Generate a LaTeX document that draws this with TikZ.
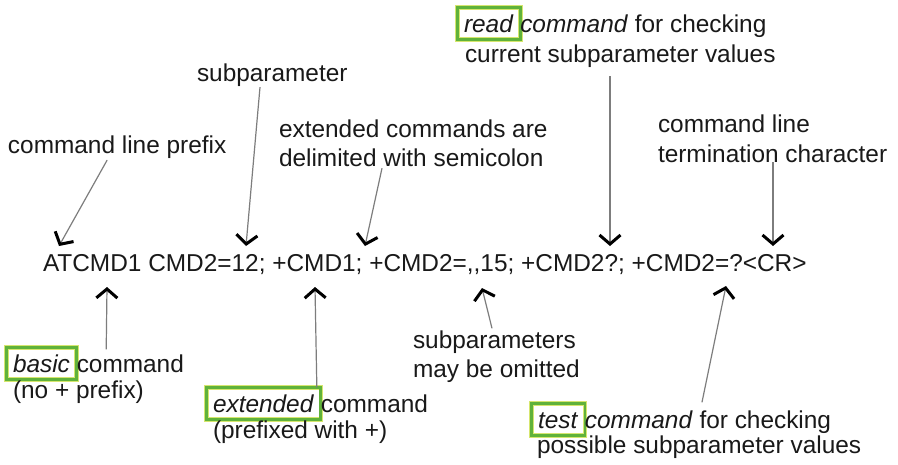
\documentclass[tikz,border=0pt]{standalone}
\usepackage{fontspec}
\setmainfont{Liberation Sans}
\usetikzlibrary{arrows.meta,calc}

\definecolor{boxgreen}{RGB}{96,178,58}
\definecolor{boxglow}{RGB}{214,230,110}
\definecolor{leader}{RGB}{125,125,125}

\tikzset{
  lbl/.style={anchor=base west, inner sep=0pt, outer sep=0pt,
              font=\fontsize{24.4}{29}\selectfont, text=black!90},
  kw/.style={lbl, inner xsep=6.8pt, inner ysep=7pt,
             text height=17.6pt, text depth=0.5pt,
             preaction={draw=boxglow, line width=4.6pt},
             draw=boxgreen, line width=2.8pt},
  pointer/.style={draw=leader, line width=1.2pt,
                  -{Straight Barb[length=9pt,width=21pt,line width=3pt,color=black]}},
}

\begin{document}
\begin{tikzpicture}[x=1pt,y=-1pt]
  \fill[white] (0,0) rectangle (898,464);
  \useasboundingbox (0,0) rectangle (898,464);

  % the command line itself
  \node[lbl] (cmd) at (43,271) {ATCMD1 CMD2=12; +CMD1; +CMD2=,{},15; +CMD2?; +CMD2=?<CR>};

  % labels above the command line
  \node[lbl] (prefix) at (8,153) {command line prefix};
  \node[lbl] (subp) at (197,81) {subparameter};
  \node[lbl] (delim1) at (279,137) {extended commands are};
  \node[lbl] (delim2) at (279,166) {delimited with semicolon};
  \node[kw]  (readkw) at (457.2,32) {\textit{read}};
  \node[lbl] (read1) at (readkw.base east) {\textit{command} for checking};
  \node[lbl] (read2) at (465,62) {current subparameter values};
  \node[lbl] (term1) at (658,132) {command line};
  \node[lbl] (term2) at (658,162) {termination character};

  % labels below the command line
  \node[kw]  (basickw) at (6.2,372) {\textit{basic}};
  \node[lbl] (basic1) at (basickw.base east) {command};
  \node[lbl] (basic2) at (13,398) {(no + prefix)};
  \node[kw]  (extkw) at (206.2,412) {\textit{extended}};
  \node[lbl] (ext1) at (extkw.base east) {command};
  \node[lbl] (ext2) at (213,438) {(prefixed with +)};
  \node[lbl] (omit1) at (413,348) {subparameters};
  \node[lbl] (omit2) at (413,377) {may be omitted};
  \node[kw]  (testkw) at (531.2,428) {\textit{test}};
  \node[lbl] (test1) at (testkw.base east) {\textit{command} for checking};
  \node[lbl] (test2) at (537,453) {possible subparameter values};

  % points on the command line that the pointers reach
  \coordinate (atPrefix) at (59,246);
  \coordinate (atSub)    at (246,246);
  \coordinate (atSemi)   at (365,246);
  \coordinate (atRead)   at (610,246);
  \coordinate (atCR)     at (773,246);
  \coordinate (atBasic)  at (107,287);
  \coordinate (atExt)    at (315,287);
  \coordinate (atOmit)   at (482,288);
  \coordinate (atTest)   at (726,286);

  % pointers
  \draw[pointer] ($(prefix.south)+(-10,2)$) -- (atPrefix);
  \draw[pointer] ($(subp.south west)+(63,1)$) -- (atSub);
  \draw[pointer] ($(delim2.south west)+(103,2)$) -- (atSemi);
  \draw[pointer] ($(read2.south west)+(145,9)$) -- (atRead);
  \draw[pointer] ($(term2.south west)+(115,0)$) -- (atCR);
  \draw[pointer] ($(basickw.north west)+(100,2)$) -- (atBasic);
  \draw[pointer] ($(extkw.north east)+(-4,0)$) -- (atExt);
  \draw[pointer] ($(omit1.north west)+(79,-2)$) -- (atOmit);
  \draw[pointer] ($(test1.north west)+(117,-8)$) -- (atTest);
\end{tikzpicture}
\end{document}
